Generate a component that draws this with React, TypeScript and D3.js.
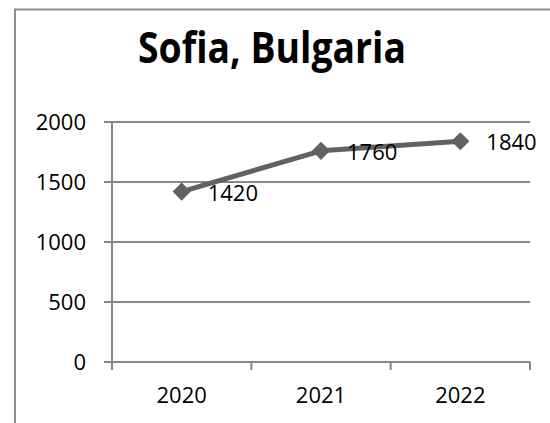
import React from 'react'
import * as d3 from 'd3'

const categories = ['2020', '2021', '2022']
const values = [1420, 1760, 1840]
const yTicks = [0, 500, 1000, 1500, 2000]
const title = 'Sofia, Bulgaria'

const W = 550
const H = 423
const font = '"Open Sans", Lato, sans-serif'
const gridColor = '#878787'
const lineColor = '#616161'

const App = () => {
  const x = d3.scaleBand().domain(categories).range([112, 530]).padding(0)
  const y = d3.scaleLinear().domain([0, 2000]).range([362, 122])

  const pts = categories.map((c, i) => [x(c)! + x.bandwidth() / 2, y(values[i])] as [number, number])
  const line = d3.line()(pts) || ''
  const diamond = d3.symbol().type(d3.symbolDiamond2).size(210)() || ''

  const catEdges = categories.map((c) => x(c)!).concat([x.range()[1]])

  return (
    <svg
      width={W}
      height={H}
      style={{ position: 'absolute', left: 0, top: 0, background: '#fff' }}
    >
      {/* chart border, cropped on the right and bottom */}
      <rect x={15} y={9.5} width={W + 20} height={H + 20} fill="#fff" stroke="#8c8c8c" strokeWidth={2} />

      <text
        x={138}
        y={63}
        textLength={268}
        lengthAdjust="spacingAndGlyphs"
        fontFamily={font}
        fontWeight={700}
        fontSize={43}
        fill="#000"
      >
        {title}
      </text>

      {/* gridlines + y ticks */}
      {yTicks.map((t) => (
        <g key={t}>
          <line x1={104} x2={530} y1={y(t)} y2={y(t)} stroke={gridColor} strokeWidth={2} />
          <text x={86} y={y(t) + 8} textAnchor="end" fontFamily={font} fontSize={22} fill="#000">
            {t}
          </text>
        </g>
      ))}

      {/* y axis */}
      <line x1={112} x2={112} y1={y(2000)} y2={370} stroke={gridColor} strokeWidth={2} />

      {/* x ticks */}
      {catEdges.map((e, i) => (
        <line key={i} x1={e} x2={e} y1={362} y2={370} stroke={gridColor} strokeWidth={2} />
      ))}
      {categories.map((c) => (
        <text key={c} x={x(c)! + x.bandwidth() / 2} y={403} textAnchor="middle" fontFamily={font} fontSize={22} fill="#000">
          {c}
        </text>
      ))}

      {/* series */}
      <path d={line} fill="none" stroke={lineColor} strokeWidth={5} strokeLinejoin="round" />
      {pts.map((p, i) => (
        <path key={i} d={diamond} transform={`translate(${p[0]},${p[1]})`} fill={lineColor} />
      ))}
      {pts.map((p, i) => (
        <text key={'l' + i} x={p[0] + 26} y={p[1] + 9} fontFamily={font} fontSize={22} fill="#000">
          {values[i]}
        </text>
      ))}
    </svg>
  )
}

export default App
